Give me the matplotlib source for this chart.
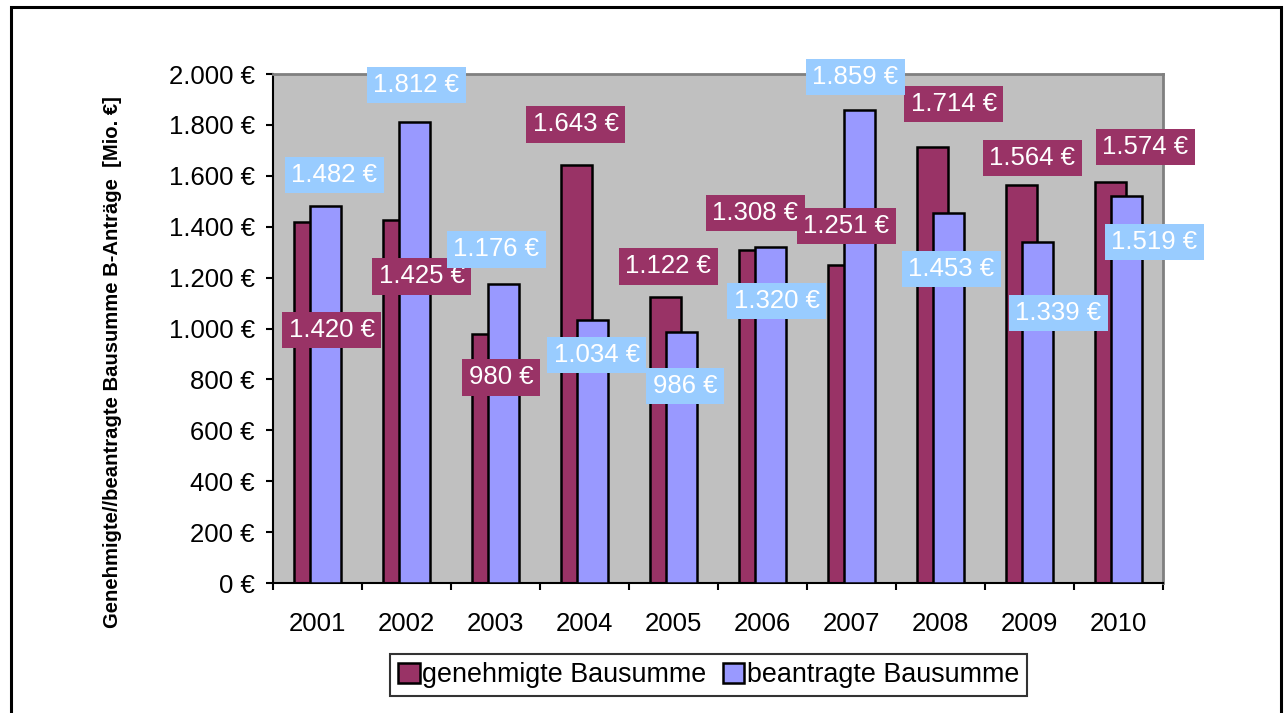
import numpy as np
import matplotlib
matplotlib.use("Agg")
import matplotlib.pyplot as plt
from matplotlib.patches import Rectangle
from matplotlib.ticker import FuncFormatter, FixedLocator

plt.rcParams["font.family"] = ["Liberation Sans", "DejaVu Sans"]

years = ["2001", "2002", "2003", "2004", "2005", "2006", "2007", "2008", "2009", "2010"]
genehmigt = [1420, 1425, 980, 1643, 1122, 1308, 1251, 1714, 1564, 1574]
beantragt = [1482, 1812, 1176, 1034, 986, 1320, 1859, 1453, 1339, 1519]

# label box centres (x offset from category centre, y in data units), as placed in the original
gen_label_dx = [0.16, 0.17, 0.06, -0.10, -0.06, -0.08, -0.06, 0.15, 0.03, 0.30]
gen_label_y = [994, 1206, 809, 1803, 1245, 1454, 1403, 1882, 1670, 1713]
bea_label_dx = [0.19, 0.11, 0.01, 0.14, 0.13, 0.16, 0.04, 0.12, 0.32, 0.40]
bea_label_y = [1603, 1957, 1312, 896, 774, 1108, 1988, 1234, 1061, 1340]

GEN_COLOR = "#993366"
BEA_COLOR = "#9999FF"
BEA_LABEL = "#99CCFF"


def euro(v, pos=None):
    return f"{int(round(v)):,} €".replace(",", ".")


fig = plt.figure(figsize=(12.84, 7.13), dpi=100)
ax = fig.add_axes([0.2126, 0.1823, 0.6932, 0.7139])
ax.set_facecolor("#C0C0C0")

x = np.arange(len(years))
width = 0.34
ax.bar(x - 0.09, genehmigt, width, color=GEN_COLOR, edgecolor="black",
       linewidth=1.8, zorder=2, label="genehmigte Bausumme")
ax.bar(x + 0.09, beantragt, width, color=BEA_COLOR, edgecolor="black",
       linewidth=1.8, zorder=3, label="beantragte Bausumme")

for i in range(len(years)):
    ax.text(x[i] + gen_label_dx[i], gen_label_y[i], euro(genehmigt[i]),
            ha="center", va="center", color="white", fontsize=18.5, zorder=5,
            clip_on=False,
            bbox=dict(boxstyle="square,pad=0.25", fc=GEN_COLOR, ec="none"))
for i in range(len(years)):
    ax.text(x[i] + bea_label_dx[i], bea_label_y[i], euro(beantragt[i]),
            ha="center", va="center", color="white", fontsize=18.5, zorder=6,
            clip_on=False,
            bbox=dict(boxstyle="square,pad=0.25", fc=BEA_LABEL, ec="none"))

ax.set_xlim(-0.5, len(years) - 0.5)
ax.set_ylim(0, 2000)
ax.set_yticks(np.arange(0, 2001, 200))
ax.yaxis.set_major_formatter(FuncFormatter(euro))
ax.tick_params(axis="y", direction="out", length=5, width=1.5, pad=8, labelsize=18.5)

ax.set_xticks(x)
ax.set_xticklabels(years)
ax.xaxis.set_minor_locator(FixedLocator(np.arange(-0.5, len(years), 1.0)))
ax.tick_params(axis="x", which="major", length=0, pad=21, labelsize=18.5)
ax.tick_params(axis="x", which="minor", direction="out", length=5, width=1.5)

for side in ["left", "bottom"]:
    ax.spines[side].set_color("black")
    ax.spines[side].set_linewidth(1.5)
for side in ["top", "right"]:
    ax.spines[side].set_color("#808080")
    ax.spines[side].set_linewidth(2)

fig.text(113 / 1284, 0.492, "Genehmigte//beantragte Bausumme B-Anträge  [Mio. €]",
         rotation=90, ha="center", va="center", fontsize=14.6, fontweight="bold")

leg = fig.legend(loc="center", bbox_to_anchor=(0.552, 0.053), ncol=2,
                 fontsize=19.4, frameon=True, fancybox=False, edgecolor="black",
                 handlelength=0.8, handleheight=0.8, handletextpad=0.1,
                 columnspacing=0.6, borderpad=0.3, borderaxespad=0)
leg.get_frame().set_linewidth(1.5)

frame = Rectangle((11 / 1284, -0.05), 1270 / 1284, 1.05 - 6.5 / 713,
                  transform=fig.transFigure, fill=False, edgecolor="black",
                  linewidth=2.2, clip_on=False)
fig.patches.append(frame)

fig.savefig("out.png", dpi=100)
